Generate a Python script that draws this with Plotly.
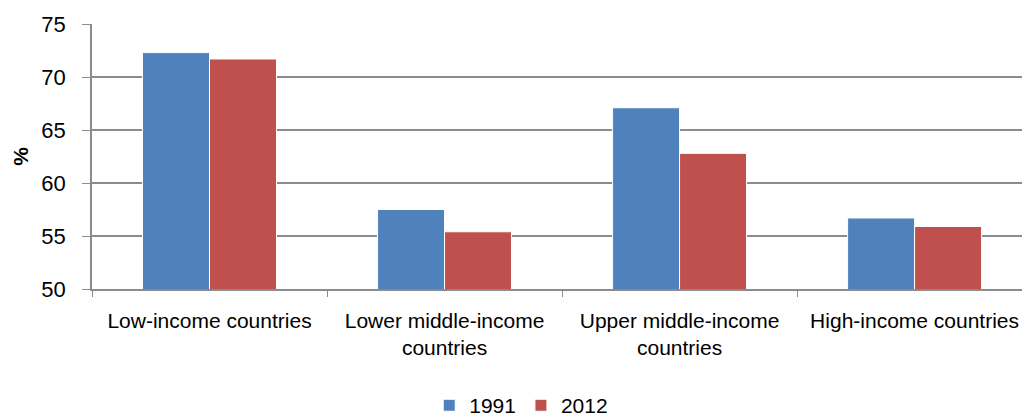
import plotly.graph_objects as go

categories = ["Low-income countries", "Lower middle-income<br>countries",
              "Upper middle-income<br>countries", "High-income countries"]
values_1991 = [72.3, 57.5, 67.1, 56.7]
values_2012 = [71.7, 55.4, 62.8, 55.9]
y_ticks = [50, 55, 60, 65, 70, 75]

FONT = "Liberation Sans, Arial, sans-serif"
GRID = "#8c8c8c"

fig = go.Figure()
fig.add_trace(go.Bar(name="1991", x=categories, y=values_1991,
                     marker=dict(color="#4F81BD", line=dict(color="white", width=1))))
fig.add_trace(go.Bar(name="2012", x=categories, y=values_2012,
                     marker=dict(color="#C0504D", line=dict(color="white", width=1))))

fig.update_layout(
    width=1022, height=416,
    margin=dict(l=92, r=0, t=24, b=127, autoexpand=False),
    paper_bgcolor="white", plot_bgcolor="white",
    barmode="group", bargap=0.43, bargroupgap=0.0,
    font=dict(family=FONT, color="black", size=22),
    showlegend=True,
    legend=dict(orientation="h", xref="container", x=0.51, xanchor="center",
                yref="paper", y=-0.44, yanchor="middle",
                font=dict(size=21), itemwidth=30, traceorder="normal"),
)
fig.update_xaxes(
    type="category", range=[-0.5, 3.457],
    tickson="boundaries", ticks="outside", ticklen=6, tickcolor=GRID,
    showline=True, linecolor=GRID, linewidth=1.5,
    showgrid=False, tickfont=dict(size=21), ticklabelstandoff=12,
)
fig.update_yaxes(
    range=[50, 75], tickvals=y_ticks, ticks="outside", ticklen=8, tickcolor=GRID,
    showline=True, linecolor=GRID, linewidth=1.5,
    showgrid=True, gridcolor=GRID, gridwidth=1.5,
    tickfont=dict(size=22), ticklabelstandoff=12,
    title=dict(text="<b>%</b>", font=dict(size=21), standoff=7),
    zeroline=False,
)

fig.write_html("out.html")
